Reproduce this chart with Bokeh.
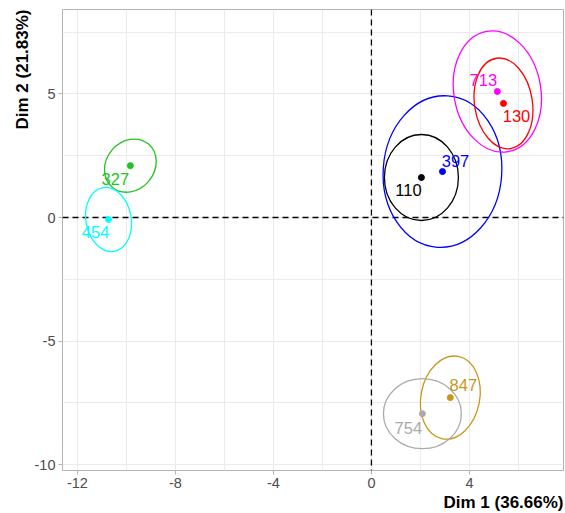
from bokeh.plotting import figure
from bokeh.models import ColumnDataSource, Range1d, FixedTicker, Span, Title
from bokeh.core.properties import value
from bokeh.embed import file_html
from bokeh.resources import INLINE

# ---- data ----
groups = ["327", "454", "110", "397", "713", "130", "847", "754"]
dim1 = [-9.84, -10.73, 2.04, 2.90, 5.14, 5.39, 3.22, 2.08]
dim2 = [2.10, -0.08, 1.62, 1.86, 5.10, 4.62, -7.29, -7.94]
ell_w = [2.30, 1.85, 3.02, 4.84, 3.55, 2.36, 2.40, 3.18]
ell_h = [1.95, 2.62, 3.48, 6.15, 4.95, 3.70, 3.40, 2.83]
ell_angle = [50, 10, 0, -4, 10, 9, -11, 0]
colors = ["#1FC41F", "#00FFFF", "#000000", "#0000FF", "#FF00FF", "#FF0000", "#C9961A", "#AAAAAA"]

x_ticks = [-12, -8, -4, 0, 4]
x_minor = [-10, -6, -2, 2, 6]
y_ticks = [-10, -5, 0, 5]
y_minor = [-7.5, -2.5, 2.5, 7.5]
x_title = "Dim 1 (36.66%)"
y_title = "Dim 2 (21.83%)"

# label offsets in screen pixels (style; positive dy = down)
lab_dx = [-15, -13, -13, 13, -14, 13, 13, -14]
lab_dy = [13, 13, 13, -11, -12, 13, -13, 14]

FONT = "Liberation Sans"

src = ColumnDataSource(dict(x=dim1, y=dim2, w=ell_w, h=ell_h, a=ell_angle,
                            c=colors, t=groups, dx=lab_dx, dy=lab_dy))

p = figure(width=565, height=513, output_backend="svg", toolbar_location=None,
           x_range=Range1d(-12.61, 7.84), y_range=Range1d(-10.24, 8.42),
           min_border_left=62, min_border_right=2, min_border_top=9, min_border_bottom=43)

p.background_fill_color = "white"
p.border_fill_color = "white"
p.outline_line_color = "#B3B3B3"
p.outline_line_width = 1

p.xaxis.ticker = FixedTicker(ticks=x_ticks, minor_ticks=x_minor)
p.yaxis.ticker = FixedTicker(ticks=y_ticks, minor_ticks=y_minor)
p.xaxis.major_label_overrides = {t: str(t) for t in x_ticks}
p.yaxis.major_label_overrides = {t: str(t) for t in y_ticks}
for ax in (p.xaxis, p.yaxis):
    ax.axis_line_color = None
    ax.major_tick_line_color = "#B3B3B3"
    ax.major_tick_out = 4
    ax.major_tick_in = 0
    ax.minor_tick_line_color = None
    ax.major_label_text_font = FONT
    ax.major_label_text_font_size = "14.5px"
    ax.major_label_text_color = "#4D4D4D"
    ax.major_label_standoff = 3

for g in (p.xgrid, p.ygrid):
    g.grid_line_color = "#EBEBEB"
    g.grid_line_width = 1
    g.minor_grid_line_color = "#EBEBEB"
    g.minor_grid_line_width = 1

p.add_layout(Span(location=0, dimension="height", line_color="black",
                  line_dash="6 4", line_width=1.3, level="underlay"))
p.add_layout(Span(location=0, dimension="width", line_color="black",
                  line_dash="6 4", line_width=1.3, level="underlay"))

p.ellipse(x="x", y="y", width="w", height="h", angle="a", angle_units="deg",
          source=src, fill_color=None, line_color="c", line_width=1.3)
p.scatter(x="x", y="y", source=src, size=6, fill_color="c", line_color="c")
p.text(x="x", y="y", text="t", source=src, text_color="c",
       x_offset="dx", y_offset="dy", text_align="center", text_baseline="middle",
       text_font=value(FONT), text_font_size="16.5px")

p.add_layout(Title(text=x_title, align="right", text_font=FONT, text_font_size="17px",
                   text_font_style="bold", text_color="black", standoff=0), "below")
p.add_layout(Title(text=y_title, align="right", text_font=FONT, text_font_size="17px",
                   text_font_style="bold", text_color="black", standoff=0), "left")

open("out.html", "w").write(file_html(p, INLINE))
